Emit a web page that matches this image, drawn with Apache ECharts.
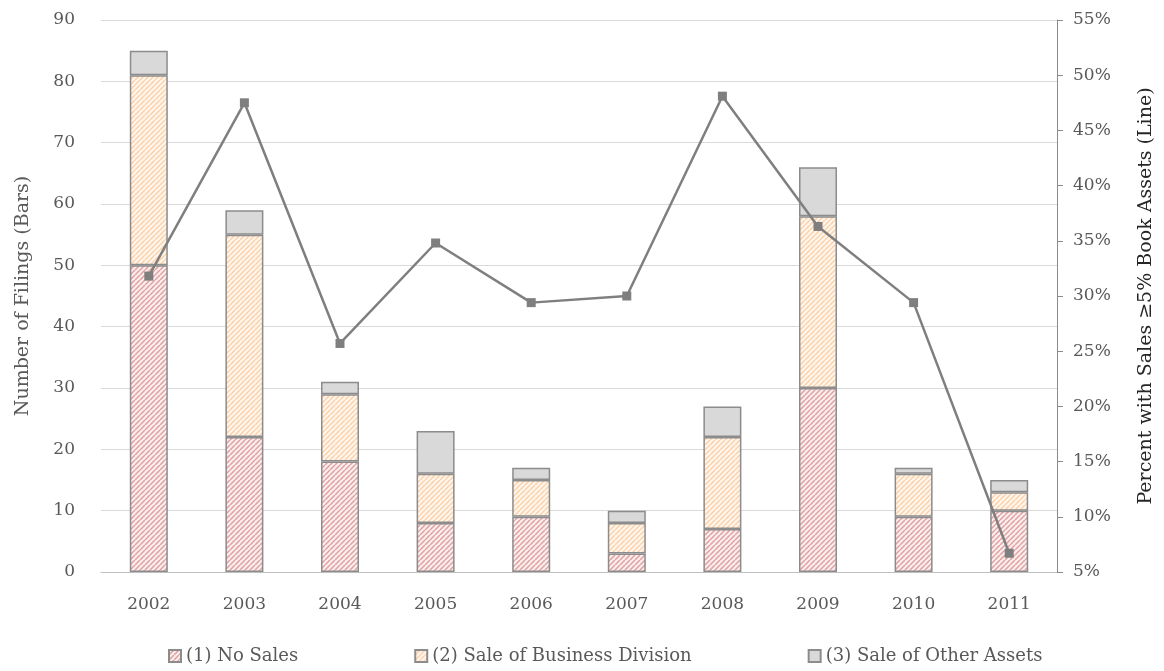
<!DOCTYPE html>
<html><head><meta charset="utf-8">
<script src="https://cdn.jsdelivr.net/npm/echarts@6/dist/echarts.min.js"></script>
<style>html,body{margin:0;padding:0;background:#fff}#c{width:1164px;height:671px}</style>
</head><body><div id="c"></div>
<script>
var years = ['2002','2003','2004','2005','2006','2007','2008','2009','2010','2011'];
var noSales = [50,22,18,8,9,3,7,30,9,10];
var saleBusiness = [31,33,11,8,6,5,15,28,7,3];
var saleOther = [4,4,2,7,2,2,5,8,1,2];
var pctLine = [31.8,47.5,25.7,34.8,29.4,30.0,48.1,36.3,29.4,6.7];

function stripes(fg, bg){
  var s = 5;
  var c = document.createElement('canvas');
  c.width = s; c.height = s;
  var g = c.getContext('2d');
  g.fillStyle = bg; g.fillRect(0,0,s,s);
  g.strokeStyle = fg; g.lineWidth = 1.5;
  g.beginPath();
  for (var k=-s;k<=s;k+=s){ g.moveTo(k,s); g.lineTo(k+s,0); }
  g.stroke();
  return {image:c, repeat:'repeat'};
}
var font = 'DejaVu Serif';
var grey = '#595959';
var chart = echarts.init(document.getElementById('c'));
chart.setOption({
  animation:false,
  textStyle:{fontFamily:font},
  grid:{left:101,right:102,top:20,bottom:99},
  legend:{bottom:1,left:163,itemWidth:12,itemHeight:12,itemGap:116,icon:'rect',
    textStyle:{fontFamily:font,fontSize:18,color:grey},
    data:['(1) No Sales','(2) Sale of Business Division','(3) Sale of Other Assets']},
  xAxis:{type:'category',data:years,
    axisLine:{lineStyle:{color:'#bfbfbf'}},axisTick:{show:false},
    axisLabel:{fontFamily:font,fontSize:17,color:grey,margin:24}},
  yAxis:[
    {type:'value',min:0,max:90,interval:10,name:'Number of Filings (Bars)',nameLocation:'middle',nameGap:68,
     nameTextStyle:{fontFamily:font,fontSize:19,color:grey},
     axisLine:{show:false},axisTick:{show:false},
     splitLine:{lineStyle:{color:'#d9d9d9'}},
     axisLabel:{fontFamily:font,fontSize:17,color:grey,margin:26}},
    {type:'value',min:5,max:55,interval:5,position:'right',name:'Percent with Sales \u22655% Book Assets (Line)',nameLocation:'middle',nameGap:80,
     nameRotate:90,
     nameTextStyle:{fontFamily:font,fontSize:19,color:'#262626'},
     axisLine:{show:true,lineStyle:{color:'#8c8c8c'}},axisTick:{show:true,length:6,inside:false,lineStyle:{color:'#8c8c8c'}},
     splitLine:{show:false},
     axisLabel:{fontFamily:font,fontSize:17,color:grey,margin:16,formatter:'{value}%'}}
  ],
  series:[
    {name:'(1) No Sales',type:'bar',stack:'a',barWidth:38,data:noSales,
     itemStyle:{color:stripes('#e0a0a0','#fbeeee'),borderColor:'#8c8c8c',borderWidth:1.5}},
    {name:'(2) Sale of Business Division',type:'bar',stack:'a',data:saleBusiness,
     itemStyle:{color:stripes('#fcd0a8','#fff6ee'),borderColor:'#8c8c8c',borderWidth:1.5}},
    {name:'(3) Sale of Other Assets',type:'bar',stack:'a',data:saleOther,
     itemStyle:{color:'#d9d9d9',borderColor:'#8c8c8c',borderWidth:1.5}},
    {name:'pct',type:'line',yAxisIndex:1,data:pctLine,symbol:'rect',symbolSize:9,
     lineStyle:{color:'#7f7f7f',width:2.5},itemStyle:{color:'#7f7f7f'},z:5}
  ]
});
</script></body></html>
